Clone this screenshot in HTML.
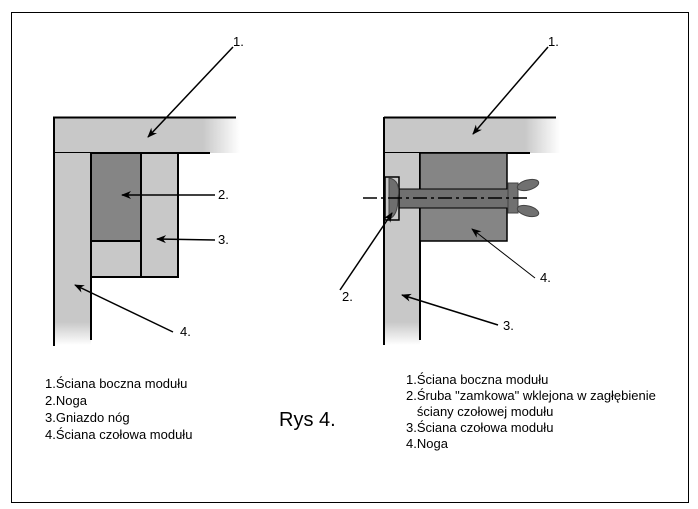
<!DOCTYPE html>
<html><head><meta charset="utf-8"><style>
html,body{margin:0;padding:0;background:#fff;}
body{width:698px;height:509px;position:relative;overflow:hidden;font-family:"Liberation Sans",sans-serif;}
.t{position:absolute;font-size:13px;line-height:16px;color:#000;white-space:nowrap;}
</style></head><body>
<svg width="698" height="509" style="position:absolute;left:0;top:0">
<defs>
<marker id="a" markerWidth="10" markerHeight="8" refX="9" refY="4" orient="auto" markerUnits="userSpaceOnUse">
<path d="M0,0 L10,4 L0,8 L3,4 Z" fill="#000"/></marker>
<linearGradient id="fr" x1="0" x2="1"><stop offset="0.8" stop-color="#c8c8c8"/><stop offset="1" stop-color="#fff"/></linearGradient>
<linearGradient id="fd" x1="0" y1="0" x2="0" y2="1"><stop offset="0.88" stop-color="#c8c8c8"/><stop offset="1" stop-color="#fff"/></linearGradient>
</defs>
<rect x="11.5" y="12.5" width="677" height="490" fill="none" stroke="#000" stroke-width="1"/>
<rect x="54" y="117" width="186" height="36" fill="url(#fr)"/>
<path d="M54,346 V117.5 H236 M54,153 H210" stroke="#000" stroke-width="2" fill="none"/>
<rect x="54" y="153" width="37" height="192" fill="url(#fd)"/>
<line x1="54" y1="117" x2="54" y2="345" stroke="#000" stroke-width="2"/>
<line x1="91" y1="153" x2="91" y2="340" stroke="#000" stroke-width="2"/>
<rect x="91" y="153" width="50" height="88" fill="#858585" stroke="#000" stroke-width="2"/>
<rect x="91" y="241" width="50" height="36" fill="#c8c8c8" stroke="#000" stroke-width="2"/>
<rect x="141" y="153" width="37" height="124" fill="#c8c8c8" stroke="#000" stroke-width="2"/>
<line x1="233" y1="47" x2="148" y2="137" stroke="#000" stroke-width="1.5" marker-end="url(#a)"/>
<line x1="215" y1="195" x2="122" y2="195" stroke="#000" stroke-width="1.5" marker-end="url(#a)"/>
<line x1="215" y1="240" x2="157" y2="239" stroke="#000" stroke-width="1.5" marker-end="url(#a)"/>
<line x1="173" y1="332" x2="75" y2="285" stroke="#000" stroke-width="1.5" marker-end="url(#a)"/>
<rect x="384" y="117" width="176" height="36" fill="url(#fr)"/>
<path d="M384,117.5 H556 M384,153 H530" stroke="#000" stroke-width="2" fill="none"/>
<rect x="384" y="153" width="36" height="192" fill="url(#fd)"/>
<line x1="384" y1="117" x2="384" y2="345" stroke="#000" stroke-width="2"/>
<line x1="420" y1="153" x2="420" y2="340" stroke="#000" stroke-width="2"/>
<rect x="420" y="153" width="87" height="88" fill="#858585" stroke="#000" stroke-width="1.5"/>
<rect x="398" y="189" width="112" height="19" fill="#707070" stroke="#000" stroke-width="1"/>
<rect x="385" y="177" width="14" height="43" fill="#c8c8c8" stroke="#000" stroke-width="1.5"/>
<path d="M389,178 Q401,180 398,198 Q398,216 389,219 Z" fill="#6e6e6e" stroke="#444" stroke-width="1"/>
<rect x="508" y="183" width="10" height="30" fill="#707070" stroke="#444" stroke-width="1"/>
<ellipse cx="528" cy="185" rx="11" ry="5" fill="#707070" stroke="#444" stroke-width="1" transform="rotate(-15 528 185)"/>
<ellipse cx="528" cy="211" rx="11" ry="5" fill="#707070" stroke="#444" stroke-width="1" transform="rotate(15 528 211)"/>
<line x1="363" y1="198" x2="531" y2="198" stroke="#000" stroke-width="1.5" stroke-dasharray="14,4,3,4"/>
<line x1="548" y1="47" x2="473" y2="134" stroke="#000" stroke-width="1.5" marker-end="url(#a)"/>
<line x1="340" y1="290" x2="392" y2="213" stroke="#000" stroke-width="1.5" marker-end="url(#a)"/>
<line x1="498" y1="325" x2="402" y2="295" stroke="#000" stroke-width="1.5" marker-end="url(#a)"/>
<line x1="535" y1="278" x2="472" y2="229" stroke="#000" stroke-width="1" marker-end="url(#a)"/>
</svg>
<div class="t" style="left:233px;top:34px">1.</div>
<div class="t" style="left:218px;top:187px">2.</div>
<div class="t" style="left:218px;top:232px">3.</div>
<div class="t" style="left:180px;top:324px">4.</div>
<div class="t" style="left:548px;top:34px">1.</div>
<div class="t" style="left:342px;top:289px">2.</div>
<div class="t" style="left:503px;top:318px">3.</div>
<div class="t" style="left:540px;top:270px">4.</div>
<div class="t" style="left:45px;top:375px;line-height:17px">1.Ściana boczna modułu<br>2.Noga<br>3.Gniazdo nóg<br>4.Ściana czołowa modułu</div>
<div class="t" style="left:279px;top:408px;font-size:20px;line-height:24px">Rys 4.</div>
<div class="t" style="left:406px;top:372px">1.Ściana boczna modułu<br>2.Śruba "zamkowa" wklejona w zagłębienie<br>&nbsp;&nbsp;&nbsp;ściany czołowej modułu<br>3.Ściana czołowa modułu<br>4.Noga</div>
</body></html>
